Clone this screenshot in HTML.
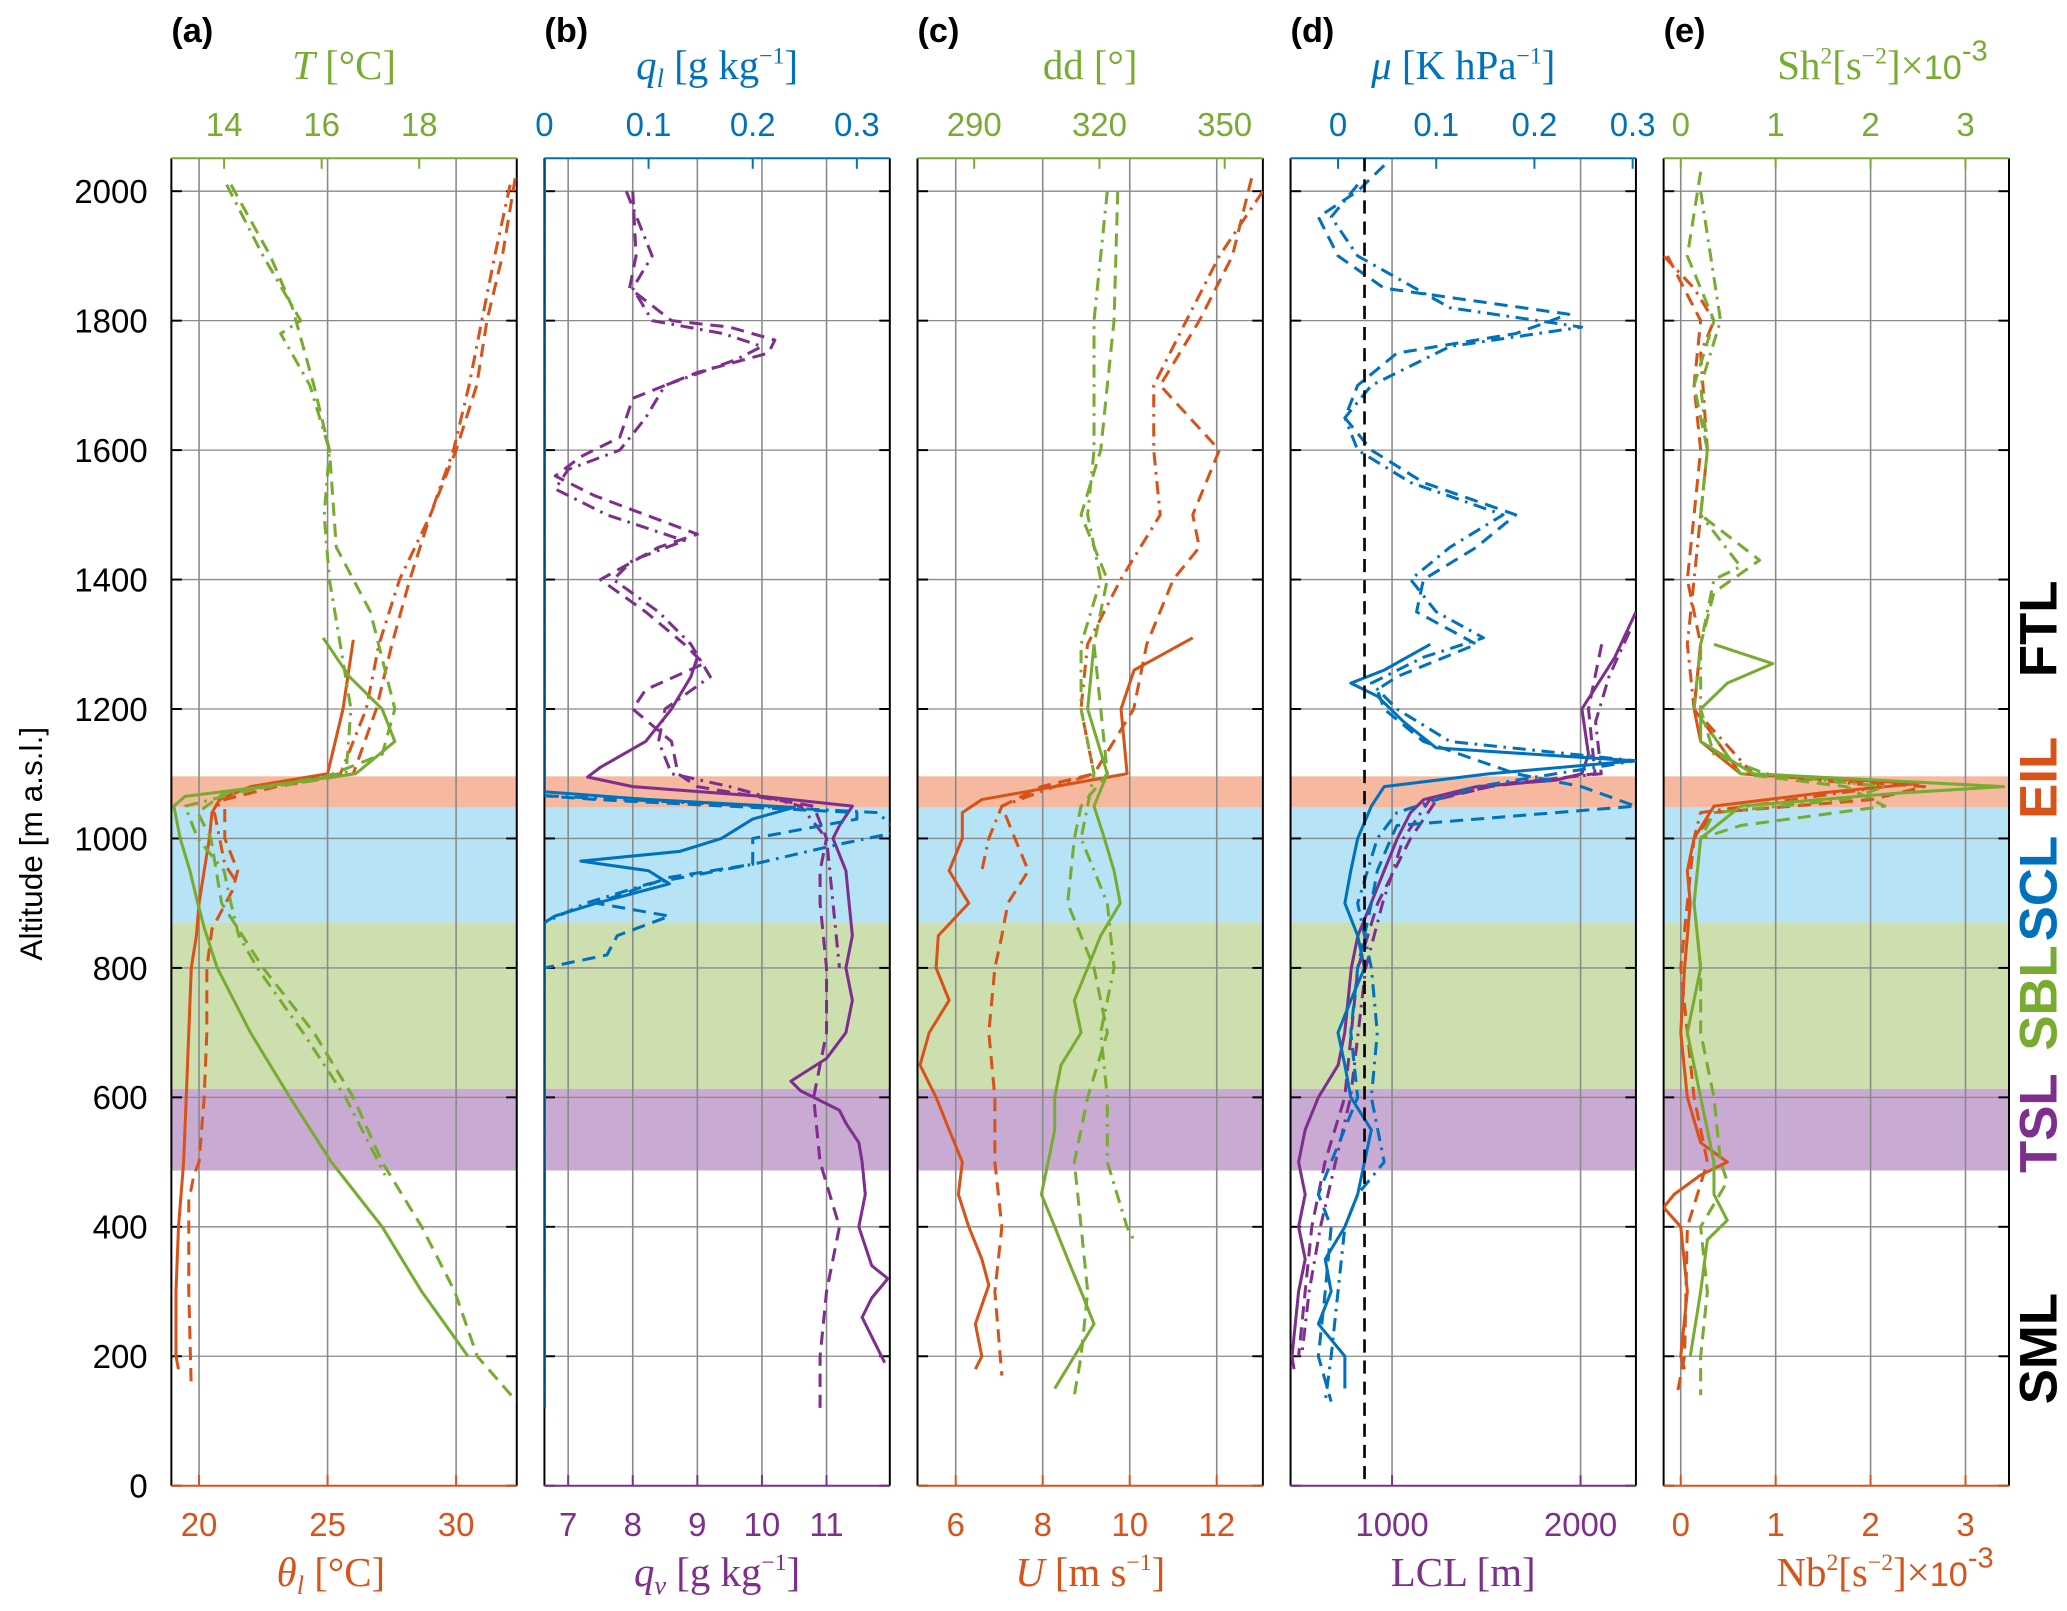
<!DOCTYPE html>
<html><head><meta charset="utf-8"><style>
html,body{margin:0;padding:0;background:#fff;}
svg{display:block;}
.tk{font-family:"Liberation Sans",sans-serif;font-size:25px;}
.ti{font-family:"Liberation Serif",serif;font-size:31px;}
</style></head><body>
<svg id="fig" width="2067" height="1611" viewBox="0 0 1568 1222" xmlns="http://www.w3.org/2000/svg"></svg>
<script>
// ---------- data (altitudes in m, values in axis units) ----------
const altBands = [[1048,1096],[870,1048],[613,870],[487,613]];
const yTicks = [0,200,400,600,800,1000,1200,1400,1600,1800,2000];

// panel a
const thSolidAlt=[1307,1200,1100,1080,1060,1040,1000,950,900,850,800,700,600,500,400,300,200,180];
const thSolid=[26.0,25.6,25.0,22,20.8,20.5,20.4,20.2,20.0,19.9,19.7,19.6,19.5,19.4,19.2,19.1,19.1,19.2];
const thDashAlt=[2020,1900,1800,1700,1600,1500,1400,1300,1200,1100,1080,1060,1000,950,920,860,800,700,600,500,480,440,300,150];
const thDash=[32.3,31.8,31.2,30.8,30.0,29.0,28.2,27.5,26.9,26.0,23,21.0,21.0,21.5,21.3,20.5,20.3,20.3,20.2,20.0,19.8,19.6,19.6,19.7];
const thDdAlt=[2010,1900,1800,1700,1600,1500,1400,1300,1200,1100,1070,1040,1000,960,930];
const thDd=[32.1,31.5,31.0,30.5,29.9,29.0,27.8,27.0,26.5,25.5,21,20.6,20.8,21,21.5];
const tSolidAlt=[1310,1250,1200,1150,1100,1080,1065,1050,1000,950,900,860,800,700,600,500,400,300,200];
const tSolid=[16.03,16.57,17.24,17.5,16.7,14.8,13.2,12.97,13.1,13.3,13.46,13.6,13.86,14.54,15.35,16.2,17.24,18.05,19.0];
const tDashAlt=[2010,1900,1820,1700,1600,1450,1350,1200,1130,1090,1070,1040,1000,900,800,700,600,500,400,300,200,130];
const tDash=[14.14,14.95,15.4,15.84,16.16,16.3,17.0,17.5,17.24,15.9,14.0,13.46,13.73,13.95,14.8,15.84,16.65,17.24,18.05,18.73,19.19,20.0];
const tDdAlt=[2010,1900,1800,1780,1700,1600,1500,1400,1300,1200,1100,1080,1050,1000,950,900,850,800,700,600,480];
const tDd=[14.05,14.8,15.57,15.16,15.76,16.16,16.05,16.16,16.38,16.6,16.5,14.8,13.2,13.46,14.0,14.14,14.3,14.68,15.62,16.49,17.3];

// panel b
const qvSolidAlt=[1280,1250,1200,1150,1110,1095,1080,1065,1050,1020,1000,950,900,850,800,750,700,660,625,610,580,560,530,500,450,400,340,320,290,260,220,190];
const qvSolid=[9.0,8.9,8.6,8.2,7.5,7.3,8.0,10.0,11.4,11.2,11.1,11.3,11.35,11.4,11.3,11.4,11.3,11.0,10.45,10.6,11.2,11.3,11.5,11.55,11.6,11.5,11.7,11.95,11.7,11.55,11.75,11.9];
const qvDashAlt=[2000,1900,1850,1800,1790,1770,1750,1720,1680,1620,1590,1560,1530,1500,1470,1450,1400,1350,1300,1270,1230,1200,1150,1100,1080,1050,1000,950,900,800,700,600,500,400,300,200,120];
const qvDash=[8.0,8.05,7.95,8.6,9.5,10.2,10.1,9.0,8.0,7.8,7.2,6.8,7.4,8.2,9.0,8.4,7.5,8.2,8.8,9.1,8.2,8.0,8.6,8.7,9.0,10.8,11.0,10.9,10.9,11.0,11.0,10.8,10.9,11.2,11.0,10.9,10.9];
const qvDdAlt=[2000,1900,1850,1800,1780,1760,1740,1700,1650,1600,1570,1540,1500,1460,1430,1400,1350,1300,1250,1200,1150,1100,1080,1050,1000,900,800];
const qvDd=[7.9,8.3,8.0,8.3,9.4,10.0,9.6,8.5,8.2,7.8,7.0,6.8,7.6,8.8,8.0,7.7,8.4,8.9,9.2,8.5,8.4,8.6,9.5,10.6,11.0,11.1,11.2];
const qlSolidAlt=[2050,1072,1060,1048,1030,1000,980,965,950,930,900,880,870,120];
const qlSolid=[0,0,0.1,0.24,0.2,0.17,0.13,0.035,0.1,0.12,0.05,0.01,0,0];
const qlDashAlt=[2050,1066,1060,1040,1030,1000,960,940,900,880,850,820,800,120];
const qlDash=[0,0,0.05,0.3,0.3,0.2,0.2,0.12,0.05,0.12,0.07,0.06,0,0];
const qlDdAlt=[2050,1066,1060,1040,1010,990,960,930,900,870,120];
const qlDd=[0,0,0.08,0.32,0.34,0.28,0.2,0.1,0.04,0,0];

// panel c
const uSolidAlt=[1310,1260,1200,1100,1080,1060,1040,1000,950,900,850,800,750,700,650,600,550,500,450,400,350,310,250,200,180];
const uSolid=[11.45,10.1,9.8,9.94,8.27,6.6,6.15,6.15,5.85,6.3,5.6,5.55,5.85,5.39,5.18,5.55,5.85,6.15,6.06,6.3,6.6,6.76,6.45,6.6,6.45];
const uDashAlt=[2020,1900,1800,1700,1600,1500,1450,1400,1300,1200,1100,1080,1050,1000,950,900,850,800,700,600,500,400,300,170];
const uDash=[12.8,12.36,11.6,10.7,12.06,11.45,11.6,11.0,10.39,10.09,9.18,7.97,7.06,7.36,7.67,7.2,7.06,6.9,6.76,6.9,6.9,7.06,6.9,7.06];
const uDdAlt=[2000,1900,1800,1700,1600,1500,1400,1300,1200,1100,1080,1050,1000,950];
const uDd=[13.06,12.06,11.3,10.55,10.55,10.7,9.79,9.03,8.88,9.18,8.27,7.06,6.76,6.6];
const ddSolidAlt=[1300,1200,1100,1050,1000,950,900,850,800,750,700,650,600,550,500,450,400,350,300,250,200,150];
const ddSolid=[318.7,317.2,321.9,318.7,321.2,323.5,325,320.3,317.2,314,315.6,310.8,309.3,309.3,307.7,306.1,309.3,312.4,315.6,318.7,314,309.3];
const ddDashAlt=[2000,1800,1700,1600,1500,1400,1300,1200,1100,1050,1000,900,800,700,600,500,400,300,200,140];
const ddDash=[324.4,323.5,321.9,320.3,315.6,321.9,318.7,320.3,321.9,315.6,314,312.4,318.7,321.9,317.2,314,315.6,317.2,315.6,314];
const ddDdAlt=[2000,1800,1600,1500,1400,1300,1200,1100,1000,900,800,700,600,500,400,380];
const ddDd=[321.9,318.7,318.7,317.2,320.3,315.6,315.6,318.7,315.6,321.9,323.5,320.3,321.9,321.9,326.6,328.2];

// panel d
const muSolidAlt=[1300,1260,1240,1220,1180,1140,1120,1100,1080,1050,1000,950,900,850,800,750,700,650,600,550,500,450,400,350,300,250,200,150];
const muSolid=[0.094,0.047,0.013,0.04,0.067,0.1,0.302,0.154,0.047,0.034,0.02,0.013,0.007,0.02,0.027,0.013,0,0.007,0.013,0.034,0.027,0.02,0.007,-0.013,-0.007,-0.02,0.007,0.007];
const muDashAlt=[2040,2000,1960,1900,1850,1810,1780,1750,1700,1650,1600,1550,1500,1450,1400,1350,1300,1250,1230,1200,1150,1100,1080,1050,1020,1000,950,900,800,700,600,500,450,400,300,200,130];
const muDash=[0.047,0.02,-0.02,0,0.047,0.235,0.181,0.06,0.02,0.007,0.034,0.087,0.181,0.141,0.087,0.08,0.141,0.06,0.04,0.047,0.087,0.181,0.248,0.303,0.06,0.054,0.04,0.034,0.02,0.013,0.02,-0.007,-0.02,-0.007,-0.013,-0.02,-0.007];
const muDdAlt=[2010,1960,1900,1820,1790,1760,1700,1650,1600,1550,1500,1450,1400,1350,1310,1280,1240,1200,1150,1120,1080,1040,1000,900,800,700,600,500,450,400,300,200,130];
const muDd=[0.02,-0.007,0.02,0.114,0.248,0.114,0.034,0.007,0.02,0.074,0.168,0.114,0.074,0.1,0.148,0.087,0.034,0.06,0.114,0.303,0.141,0.06,0.04,0.02,0.034,0.04,0.034,0.047,0.02,0.007,0,-0.007,-0.013];
const muRef=0.027;
const lclSolidAlt=[1350,1280,1200,1130,1100,1090,1080,1060,1040,1000,950,900,850,800,700,650,600,550,500,450,400,350,300,200,180];
const lclSolid=[2294,2182,2007,2042,2007,1868,1448,1168,1098,1028,958,889,819,784,749,714,609,539,504,539,504,539,504,469,480];
const lclDashAlt=[1300,1200,1100,1080,1060,1000,900,800,700,600,500,400,300,200];
const lclDash=[2112,2042,2077,1518,1238,1098,924,819,784,749,644,574,539,504];
const lclDdAlt=[1320,1250,1180,1100,1085,1060,1000,900,800,700,600,500,400,300,200];
const lclDd=[2260,2150,2080,2110,1600,1200,1060,950,860,820,780,700,620,560,520];

// panel e
const nbSolidAlt=[1300,1200,1150,1100,1085,1070,1050,1000,950,900,800,700,600,530,500,480,450,430,400,300,200,180];
const nbSolid=[0.21,0.14,0.21,0.63,2.5,1.46,0.35,0.14,0.07,0.1,0.04,0,0.07,0.21,0.49,0.21,-0.07,-0.18,0,0.07,0,0.04];
const nbDashAlt=[1900,1800,1700,1600,1500,1400,1300,1200,1100,1080,1060,1040,1000,900,800,600,500,400,200,140];
const nbDash=[-0.14,0.21,0.14,0.21,0.14,0.07,0.21,0.14,0.63,2.57,2.01,0.35,0.14,0.07,0,0.14,0.28,0.07,0.04,-0.04];
const nbDdAlt=[1900,1850,1800,1750,1600,1500,1400,1300,1200,1100,1080,1060,1040,1000];
const nbDd=[-0.18,0.14,0.35,0.21,0.28,0.21,0.14,0.07,0.14,0.76,2.15,1.18,0.21,0.14];
const shSolidAlt=[1300,1270,1240,1200,1150,1100,1080,1070,1050,1000,900,800,700,600,500,450,410,380,300,200];
const shSolid=[0.35,0.97,0.49,0.21,0.21,0.76,3.4,2.29,0.63,0.21,0.14,0.21,0.07,0.21,0.35,0.35,0.49,0.28,0.21,0.1];
const shDashAlt=[2030,1900,1800,1700,1600,1500,1430,1380,1300,1200,1100,1080,1050,1020,1000,900,800,700,600,500,470,400,300,200,140];
const shDash=[0.21,0.07,0.35,0.14,0.28,0.21,0.83,0.35,0.21,0.14,0.63,1.74,2.15,0.63,0.21,0.14,0.21,0.21,0.35,0.42,0.49,0.21,0.28,0.21,0.21];
const shDdAlt=[2000,1800,1700,1600,1500,1420,1400,1300,1200,1130,1100,1080,1060,1040,1000];
const shDd=[0.21,0.42,0.21,0.28,0.21,0.63,0.35,0.21,0.21,0.35,0.9,2.15,1.74,0.35,0.21];

// tick labels
const aBot=[20,25,30], aTop=[14,16,18];
const bBot=[7,8,9,10,11], bTop=[0,0.1,0.2,0.3];
const cBot=[6,8,10,12], cTop=[290,320,350];
const dBot=[1000,2000], dTop=[0,0.1,0.2,0.3];
const eBot=[0,1,2,3], eTop=[0,1,2,3];

// ---------- drawing ----------
const NS="http://www.w3.org/2000/svg";
const svg=document.getElementById('fig');
const C={o:'#d95319',g:'#77ac30',b:'#0072bd',p:'#7e2f8e'};
const TOP=120,BOT=1127,W=262;
const y=h=>1127-h*0.491;
function mk(tag,attrs,parent){const e=document.createElementNS(NS,tag);for(const k in attrs)e.setAttribute(k,attrs[k]);(parent||svg).appendChild(e);return e;}
const panels=[
 {x0:130,lab:'(a)',top:C.g,bot:C.o,fb:v=>151+(v-20)*19.5,ft:v=>170+(v-14)*37,bt:aBot,tt:aTop},
 {x0:413,lab:'(b)',top:C.b,bot:C.p,fb:v=>431+(v-7)*49,ft:v=>413+v*790,bt:bBot,tt:bTop},
 {x0:696,lab:'(c)',top:C.g,bot:C.o,fb:v=>725+(v-6)*33,ft:v=>739+(v-290)*3.167,bt:cBot,tt:cTop},
 {x0:979,lab:'(d)',top:C.b,bot:C.p,fb:v=>1056+(v-1000)*0.143,ft:v=>1015+v*745,bt:dBot,tt:dTop},
 {x0:1262,lab:'(e)',top:C.g,bot:C.o,fb:v=>1275+v*72,ft:v=>1275+v*72,bt:eBot,tt:eTop}
];
const bandCol=['#f6b9a0','#b7e3f6','#cddfae','#c9aad3'];
const bandNames=['band-eil','band-scl','band-sbl','band-tsl'];
const defs=mk('defs',{});
panels.forEach((P,i)=>{
  const g=mk('g',{});
  
  
  const cp=mk('clipPath',{id:'cp'+i},defs);
  mk('rect',{x:P.x0,y:TOP,width:W,height:BOT-TOP},cp);
  altBands.forEach((b,j)=>{
    const r=mk('rect',{x:P.x0,y:y(b[1]),width:W,height:y(b[0])-y(b[1]),fill:bandCol[j]},g);
    
    
  });
  yTicks.forEach(t=>{ if(t>0){
    const l=mk('line',{x1:P.x0,x2:P.x0+W,y1:y(t),y2:y(t),stroke:'#8a8a8a','stroke-width':1},g);
    
    
  }
    mk('line',{x1:P.x0,x2:P.x0+8,y1:y(t),y2:y(t),stroke:'#000','stroke-width':1.5},g);
    mk('line',{x1:P.x0+W-8,x2:P.x0+W,y1:y(t),y2:y(t),stroke:'#000','stroke-width':1.5},g);
  });
  P.bt.forEach(t=>{
    const x=P.fb(t);
    const l=mk('line',{x1:x,x2:x,y1:TOP,y2:BOT,stroke:'#8a8a8a','stroke-width':1.2},g);
    
    
    mk('line',{x1:x,x2:x,y1:BOT-8,y2:BOT,stroke:P.bot,'stroke-width':1.5},g);
    const tx=mk('text',{x:x,y:1165,'text-anchor':'middle',fill:P.bot,class:'tk'},g);
    tx.textContent=String(t);
    
    
  });
  P.tt.forEach(t=>{
    const x=P.ft(t);
    mk('line',{x1:x,x2:x,y1:TOP,y2:TOP+8,stroke:P.top,'stroke-width':1.5},g);
    const tx=mk('text',{x:x,y:103,'text-anchor':'middle',fill:P.top,class:'tk'},g);
    tx.textContent=String(t);
    
    
  });
  mk('line',{x1:P.x0,x2:P.x0,y1:TOP,y2:BOT,stroke:'#000','stroke-width':1.5},g);
  mk('line',{x1:P.x0+W,x2:P.x0+W,y1:TOP,y2:BOT,stroke:'#000','stroke-width':1.5},g);
  mk('line',{x1:P.x0,x2:P.x0+W,y1:TOP,y2:TOP,stroke:P.top,'stroke-width':1.5},g);
  mk('line',{x1:P.x0,x2:P.x0+W,y1:BOT,y2:BOT,stroke:P.bot,'stroke-width':1.5},g);
  const pl=mk('text',{x:P.x0,y:32,'font-family':'Liberation Sans,sans-serif','font-size':26,'font-weight':'bold'},g);
  pl.textContent=P.lab;
  
  
});
const DASH={s:'',d:'10,6',dd:'10,5,2,5'};
function series(pi,alts,vals,useTop,col,st,name){
  const P=panels[pi];const f=useTop?P.ft:P.fb;
  const pts=alts.map((h,k)=>f(vals[k]).toFixed(1)+','+y(h).toFixed(1)).join(' ');
  const e=mk('polyline',{points:pts,fill:'none',stroke:col,'stroke-width':2.3,'stroke-dasharray':DASH[st],'clip-path':'url(#cp'+pi+')','stroke-linejoin':'round'});
  
  
}
series(0,thSolidAlt,thSolid,false,C.o,'s','theta-l-solid');
series(0,thDashAlt,thDash,false,C.o,'d','theta-l-dashed');
series(0,thDdAlt,thDd,false,C.o,'dd','theta-l-dashdot');
series(0,tSolidAlt,tSolid,true,C.g,'s','temperature-solid');
series(0,tDashAlt,tDash,true,C.g,'d','temperature-dashed');
series(0,tDdAlt,tDd,true,C.g,'dd','temperature-dashdot');
series(1,qvSolidAlt,qvSolid,false,C.p,'s','qv-solid');
series(1,qvDashAlt,qvDash,false,C.p,'d','qv-dashed');
series(1,qvDdAlt,qvDd,false,C.p,'dd','qv-dashdot');
series(1,qlSolidAlt,qlSolid,true,C.b,'s','ql-solid');
series(1,qlDashAlt,qlDash,true,C.b,'d','ql-dashed');
series(1,qlDdAlt,qlDd,true,C.b,'dd','ql-dashdot');
series(2,uSolidAlt,uSolid,false,C.o,'s','wind-speed-solid');
series(2,uDashAlt,uDash,false,C.o,'d','wind-speed-dashed');
series(2,uDdAlt,uDd,false,C.o,'dd','wind-speed-dashdot');
series(2,ddSolidAlt,ddSolid,true,C.g,'s','wind-dir-solid');
series(2,ddDashAlt,ddDash,true,C.g,'d','wind-dir-dashed');
series(2,ddDdAlt,ddDd,true,C.g,'dd','wind-dir-dashdot');
series(3,lclSolidAlt,lclSolid,false,C.p,'s','lcl-solid');
series(3,lclDashAlt,lclDash,false,C.p,'d','lcl-dashed');
series(3,lclDdAlt,lclDd,false,C.p,'dd','lcl-dashdot');
series(3,muSolidAlt,muSolid,true,C.b,'s','mu-solid');
series(3,muDashAlt,muDash,true,C.b,'d','mu-dashed');
series(3,muDdAlt,muDd,true,C.b,'dd','mu-dashdot');
const ref=mk('line',{x1:panels[3].ft(muRef),x2:panels[3].ft(muRef),y1:TOP,y2:BOT,stroke:'#000','stroke-width':2,'stroke-dasharray':'10,6'});


series(4,nbSolidAlt,nbSolid,false,C.o,'s','nb2-solid');
series(4,nbDashAlt,nbDash,false,C.o,'d','nb2-dashed');
series(4,nbDdAlt,nbDd,false,C.o,'dd','nb2-dashdot');
series(4,shSolidAlt,shSolid,true,C.g,'s','sh2-solid');
series(4,shDashAlt,shDash,true,C.g,'d','sh2-dashed');
series(4,shDdAlt,shDd,true,C.g,'dd','sh2-dashdot');

yTicks.forEach(t=>{
  const tx=mk('text',{x:112,y:y(t)+9,'text-anchor':'end',class:'tk',fill:'#000'});
  tx.textContent=String(t);
  
  
});
</script>
<script>
(function(){
const svg=document.getElementById('fig');
svg.insertAdjacentHTML('beforeend',`
<text transform="translate(32,640) rotate(-90)" text-anchor="middle" font-family="Liberation Sans,sans-serif" font-size="24">Altitude [m a.s.l.]</text>
<text x="261" y="60" text-anchor="middle" class="ti" fill="#77ac30"><tspan font-style="italic">T</tspan> [°C]</text>
<text x="544" y="60" text-anchor="middle" class="ti" fill="#0072bd"><tspan font-style="italic">q</tspan><tspan font-style="italic" font-size="20" dy="6">l</tspan><tspan dy="-6"> [g kg</tspan><tspan font-size="18" dy="-12">−1</tspan><tspan dy="12">]</tspan></text>
<text x="827" y="60" text-anchor="middle" class="ti" fill="#77ac30">dd [°]</text>
<text x="1110" y="60" text-anchor="middle" class="ti" fill="#0072bd"><tspan font-style="italic">μ</tspan> [K hPa<tspan font-size="18" dy="-12">−1</tspan><tspan dy="12">]</tspan></text>
<text x="1428" y="60" text-anchor="middle" class="ti" fill="#77ac30">Sh<tspan font-size="18" dy="-12">2</tspan><tspan dy="12">[s</tspan><tspan font-size="18" dy="-12">−2</tspan><tspan dy="12">]×</tspan><tspan font-family="Liberation Sans,sans-serif" font-size="26">10</tspan><tspan font-family="Liberation Sans,sans-serif" font-size="22" dy="-14">-3</tspan></text>
<text x="251" y="1203" text-anchor="middle" class="ti" fill="#d95319"><tspan font-style="italic">θ</tspan><tspan font-style="italic" font-size="20" dy="6">l</tspan><tspan dy="-6"> [°C]</tspan></text>
<text x="544" y="1203" text-anchor="middle" class="ti" fill="#7e2f8e"><tspan font-style="italic">q</tspan><tspan font-style="italic" font-size="20" dy="6">v</tspan><tspan dy="-6"> [g kg</tspan><tspan font-size="18" dy="-12">−1</tspan><tspan dy="12">]</tspan></text>
<text x="827" y="1203" text-anchor="middle" class="ti" fill="#d95319"><tspan font-style="italic">U</tspan> [m s<tspan font-size="18" dy="-12">−1</tspan><tspan dy="12">]</tspan></text>
<text x="1110" y="1203" text-anchor="middle" class="ti" fill="#7e2f8e">LCL [m]</text>
<text x="1430" y="1203" text-anchor="middle" class="ti" fill="#d95319">Nb<tspan font-size="18" dy="-12">2</tspan><tspan dy="12">[s</tspan><tspan font-size="18" dy="-12">−2</tspan><tspan dy="12">]×</tspan><tspan font-family="Liberation Sans,sans-serif" font-size="26">10</tspan><tspan font-family="Liberation Sans,sans-serif" font-size="22" dy="-14">-3</tspan></text>
<g font-family="Liberation Sans,sans-serif" font-size="40" font-weight="bold" text-anchor="middle">
<text transform="translate(1560,477) rotate(-90)" fill="#000">FTL</text>
<text transform="translate(1560,590) rotate(-90)" fill="#d95319">EIL</text>
<text transform="translate(1560,674) rotate(-90)" fill="#0072bd">SCL</text>
<text transform="translate(1560,757) rotate(-90)" fill="#77ac30">SBL</text>
<text transform="translate(1560,852) rotate(-90)" fill="#7e2f8e">TSL</text>
<text transform="translate(1560,1023) rotate(-90)" fill="#000">SML</text>
</g>`);
})();
</script>
</body></html>
